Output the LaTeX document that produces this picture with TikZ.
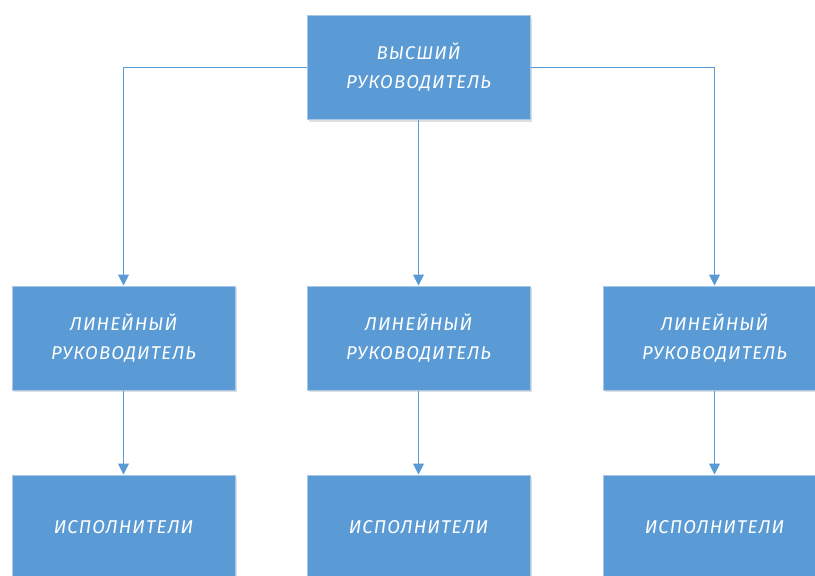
\documentclass[tikz,border=0pt]{standalone}
\usepackage{fontspec}
\setmainfont{Fira Sans}
\newfontfamily\labelfont[LetterSpace=6]{Fira Sans}
\usetikzlibrary{arrows.meta,shadows}
\definecolor{boxblue}{HTML}{5B9BD5}
\definecolor{boxedge}{HTML}{A8C6E6}
\definecolor{linkblue}{HTML}{5B9BD5}
\tikzset{
  unit/.style={rectangle, fill=boxblue, draw=boxedge, line width=1pt,
    minimum width=223pt, minimum height=104pt, inner sep=0pt,
    text=white, align=center,
    font=\labelfont\fontsize{18.5}{29}\selectfont\itshape,
    drop shadow={shadow xshift=1.5pt, shadow yshift=-2pt, fill=black!25, opacity=0.5}},
  link/.style={draw=linkblue, line width=1pt,
    -{Triangle[width=11pt,length=11pt]}}
}
\begin{document}
\begin{tikzpicture}[x=1pt,y=-1pt]
\useasboundingbox (0,0) rectangle (815,576);
\node[unit] (top) at (418.5,67.5) {ВЫСШИЙ\\РУКОВОДИТЕЛЬ};
\node[unit] (m1) at (123.5,338) {ЛИНЕЙНЫЙ\\РУКОВОДИТЕЛЬ};
\node[unit] (m2) at (418.5,338) {ЛИНЕЙНЫЙ\\РУКОВОДИТЕЛЬ};
\node[unit] (m3) at (714.5,338) {ЛИНЕЙНЫЙ\\РУКОВОДИТЕЛЬ};
\node[unit] (b1) at (123.5,527) {ИСПОЛНИТЕЛИ};
\node[unit] (b2) at (418.5,527) {ИСПОЛНИТЕЛИ};
\node[unit] (b3) at (714.5,527) {ИСПОЛНИТЕЛИ};
\draw[link] (top.west) -| (m1.north);
\draw[link] (top.south) -- (m2.north);
\draw[link] (top.east) -| (m3.north);
\draw[link] (m1.south) -- (b1.north);
\draw[link] (m2.south) -- (b2.north);
\draw[link] (m3.south) -- (b3.north);
\end{tikzpicture}
\end{document}
